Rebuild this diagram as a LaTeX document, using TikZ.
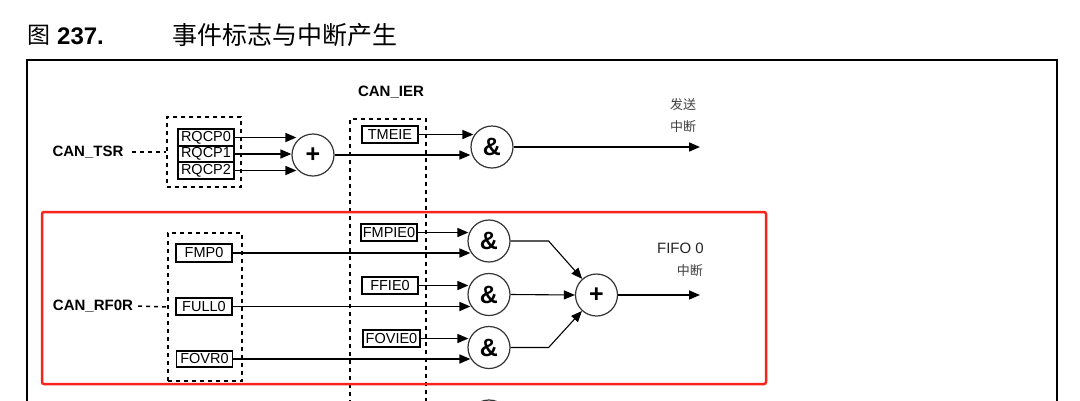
\documentclass[tikz,border=0pt]{standalone}
\usepackage{fontspec}
\setmainfont{Liberation Sans}
\newfontfamily\cjk{Noto Sans CJK SC}
\usetikzlibrary{arrows.meta}
\definecolor{hl}{HTML}{F5251C}
\begin{document}
\begin{tikzpicture}[x=1pt,y=-1pt,
  lbl/.style={font=\fontsize{15}{17}\selectfont, inner sep=0pt},
  blbl/.style={font=\bfseries\fontsize{15}{17}\selectfont, inner sep=0pt},
  cjklbl/.style={font=\cjk\fontsize{13}{15}\selectfont, text=black!75, inner sep=0pt},
  reg/.style={draw, line width=1.8pt, minimum width=56pt, minimum height=17pt, inner sep=0pt, font=\fontsize{14.5}{16}\selectfont},
  gate/.style={circle, draw=black!80, line width=1.2pt, minimum size=42pt, inner sep=0pt, font=\bfseries\fontsize{25}{25}\selectfont},
  arr/.style={line width=1.6pt, -{Triangle[length=11pt,width=9pt]}},
  thin arr/.style={line width=1.1pt, -{Triangle[length=11pt,width=9pt]}},
  wire/.style={line width=1.5pt},
  dbox/.style={draw, dash pattern=on 4pt off 4pt, line width=1.5pt, inner sep=0pt},
]
\useasboundingbox (0,0) rectangle (1080,400);
\clip (0,0) rectangle (1080,400);
\fill[white] (0,0) rectangle (1080,400);

% title
\node[anchor=west, inner sep=0pt, font=\cjk\fontsize{23}{25}\selectfont] (tfig) at (27,35) {图};
\node[anchor=west, inner sep=0pt, font=\bfseries\fontsize{24}{26}\selectfont] (tnum) at (57,36) {237.};
\node[anchor=west, inner sep=0pt, font=\cjk\fontsize{25}{27}\selectfont] (ttxt) at (172,35) {事件标志与中断产生};

% frame
\draw[line width=2pt] (27,420) -- (27,60) -- (1057,60) -- (1057,420);

% ---- top row
\node[blbl] (tsr) at (88,152) {CAN\_TSR};
\node[dbox, minimum width=74pt, minimum height=70pt] (tsrgrp) at (204,152) {};
\draw[wire, dash pattern=on 4pt off 4pt] (tsr.east) ++(8,0) -- (tsrgrp.west);
\node[reg, minimum height=16.5pt] (r0) at (206,137.5) {RQCP0};
\node[reg, minimum height=16.5pt] (r1) at (206,154) {RQCP1};
\node[reg, minimum height=16.5pt] (r2) at (206,170.5) {RQCP2};
\node[gate] (or1) at (313,155) {+};
\draw[arr, shorten >=-5pt] (r0.east) -- (r0.east -| or1.west);
\draw[arr] (r1.east) -- (r1.east -| or1.west);
\draw[arr, shorten >=-5pt] (r2.east) -- (r2.east -| or1.west);

\node[blbl] (ier) at (391,92) {CAN\_IER};
\draw[line width=1.5pt, dash pattern=on 4pt off 4pt] (350,420) -- (350,119) -- (426,119) -- (426,420);

\node[reg] (tmeie) at (390,134.5) {TMEIE};
\node[gate] (and0) at (492,147) {\&};
\draw[arr, shorten >=-3pt] (tmeie.east) -- (tmeie.east -| and0.west);
\draw[arr] (or1.east) -- (or1.east -| and0.west);
\coordinate (out0) at (700,147);
\draw[arr] (and0.east) -- (out0);
\node[cjklbl] (tx1) at (683,105) {发送};
\node[cjklbl] (tx2) at (683,127) {中断};

% ---- bottom row (FIFO 0)
\draw[hl, line width=2.5pt, rounded corners=2pt] (42,212) rectangle (766,384);

\node[blbl] (rf0r) at (93,306) {CAN\_RF0R};
\node[dbox, minimum width=74pt, minimum height=148pt] (rfgrp) at (205,307) {};
\draw[wire, dash pattern=on 4pt off 4pt] (rf0r.east) ++(5,0) -- (rfgrp.west);
\node[reg, minimum height=18pt] (fmp0) at (204,253) {FMP0};
\node[reg] (full0) at (204,306.5) {FULL0};
\node[reg, minimum height=16.5pt] (fovr0) at (204.5,359) {FOVR0};

\node[reg] (fmpie0) at (389,232.5) {FMPIE0};
\node[reg] (ffie0) at (390,285.5) {FFIE0};
\node[reg, minimum width=57pt] (fovie0) at (391.5,338.5) {FOVIE0};

\node[gate] (and1) at (489,241) {\&};
\node[gate] (and2) at (489,294.5) {\&};
\node[gate] (and3) at (489,347.5) {\&};
\node[gate] (or2) at (596.5,295) {+};
\node[gate] (and4) at (489,421) {};

\draw[arr, shorten >=-1pt] (fmpie0.east) -- (fmpie0.east -| and1.west);
\draw[arr, shorten >=-3pt] (fmp0.east) -- (fmp0.east -| and1.west);
\draw[arr, shorten >=-1pt] (ffie0.east) -- (ffie0.east -| and2.west);
\draw[arr, shorten >=-3pt] (full0.east) -- (full0.east -| and2.west);
\draw[arr, shorten >=-1pt] (fovie0.east) -- (fovie0.east -| and3.west);
\draw[arr, shorten >=-3pt] (fovr0.east) -- (fovr0.east -| and3.west);

\draw[thin arr] (and1.east) -- ++(38,0) -- (or2);
\draw[thin arr] (and2.east) -- (or2.west);
\draw[thin arr] (and3.east) -- ++(38,0) -- (or2);
\coordinate (out1) at (700,295);
\draw[arr] (or2.east) -- (out1);

\node[lbl, anchor=east, text=black!85] (fifo) at (704,248) {FIFO 0};
\node[cjklbl, anchor=east] (fifoint) at (703,271) {中断};
\end{tikzpicture}
\end{document}
